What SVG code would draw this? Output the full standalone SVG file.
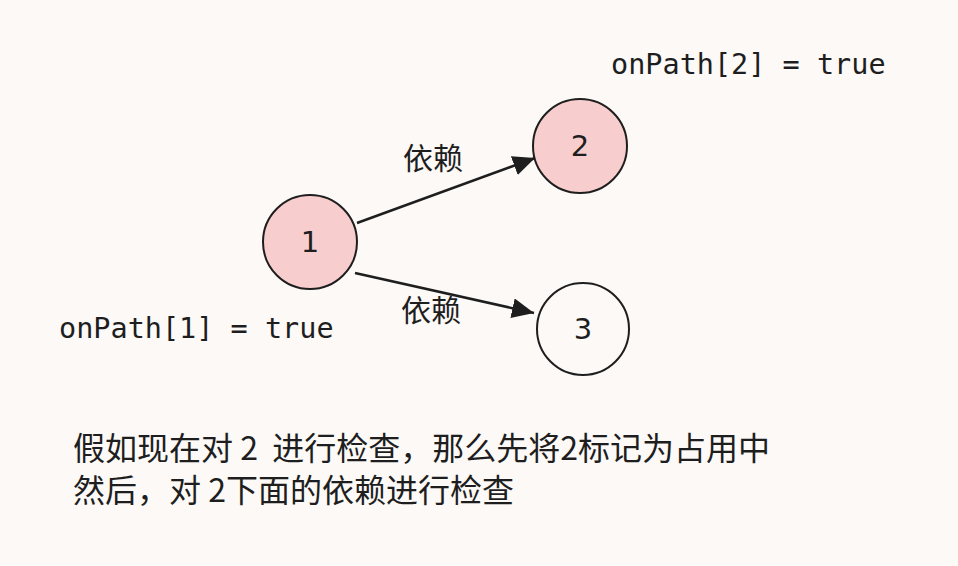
<svg xmlns="http://www.w3.org/2000/svg" width="958" height="566" viewBox="0 0 958 566">
<style>
.node{stroke:#1e1e1e;stroke-width:2}
.pink{fill:#f8cdcd}
.white{fill:none}
.num{font-family:"DejaVu Sans","Noto Sans",sans-serif;font-size:29px;fill:#1e1e1e;text-anchor:middle}
.mono{font-family:"DejaVu Sans Mono","Liberation Mono",monospace;font-size:28.5px;fill:#1e1e1e}
.cjk{font-family:"Noto Sans CJK SC",sans-serif;fill:#1e1e1e}
.edge{stroke:#1e1e1e;stroke-width:2.5;fill:none}
</style>
<defs>
<marker id="ah" markerUnits="userSpaceOnUse" markerWidth="24" markerHeight="22" refX="22" refY="10" orient="auto">
<path d="M0,0 L22,10 L0,20 z" fill="#1e1e1e"/>
</marker>
</defs>
<rect width="958" height="566" fill="#fcf9f7"/>
<g id="connectors">
<line class="edge" x1="357" y1="223" x2="535" y2="158" marker-end="url(#ah)"/>
<line class="edge" x1="355" y1="273" x2="534" y2="313" marker-end="url(#ah)"/>
<text class="cjk" x="433" y="169" font-size="30" text-anchor="middle">依赖</text>
<text class="cjk" x="431" y="321" font-size="30" text-anchor="middle">依赖</text>
</g>
<g id="node1">
<circle class="node pink" cx="310" cy="242" r="47"/>
<text class="num" x="310" y="252">1</text>
</g>
<g id="node2">
<circle class="node pink" cx="580" cy="146" r="47"/>
<text class="num" x="580" y="156">2</text>
</g>
<g id="node3">
<circle class="node white" cx="583" cy="329" r="46"/>
<text class="num" x="583" y="339">3</text>
</g>
<g id="labels">
<text class="mono" x="611" y="74">onPath[2] = true</text>
<text class="mono" x="59" y="338">onPath[1] = true</text>
<text class="cjk" font-size="32" x="73" y="460" xml:space="preserve">假如现在对 2  进行检查，那么先将2标记为占用中</text>
<text class="cjk" font-size="32" x="73" y="502" xml:space="preserve">然后，对 2下面的依赖进行检查</text>
</g>
</svg>
